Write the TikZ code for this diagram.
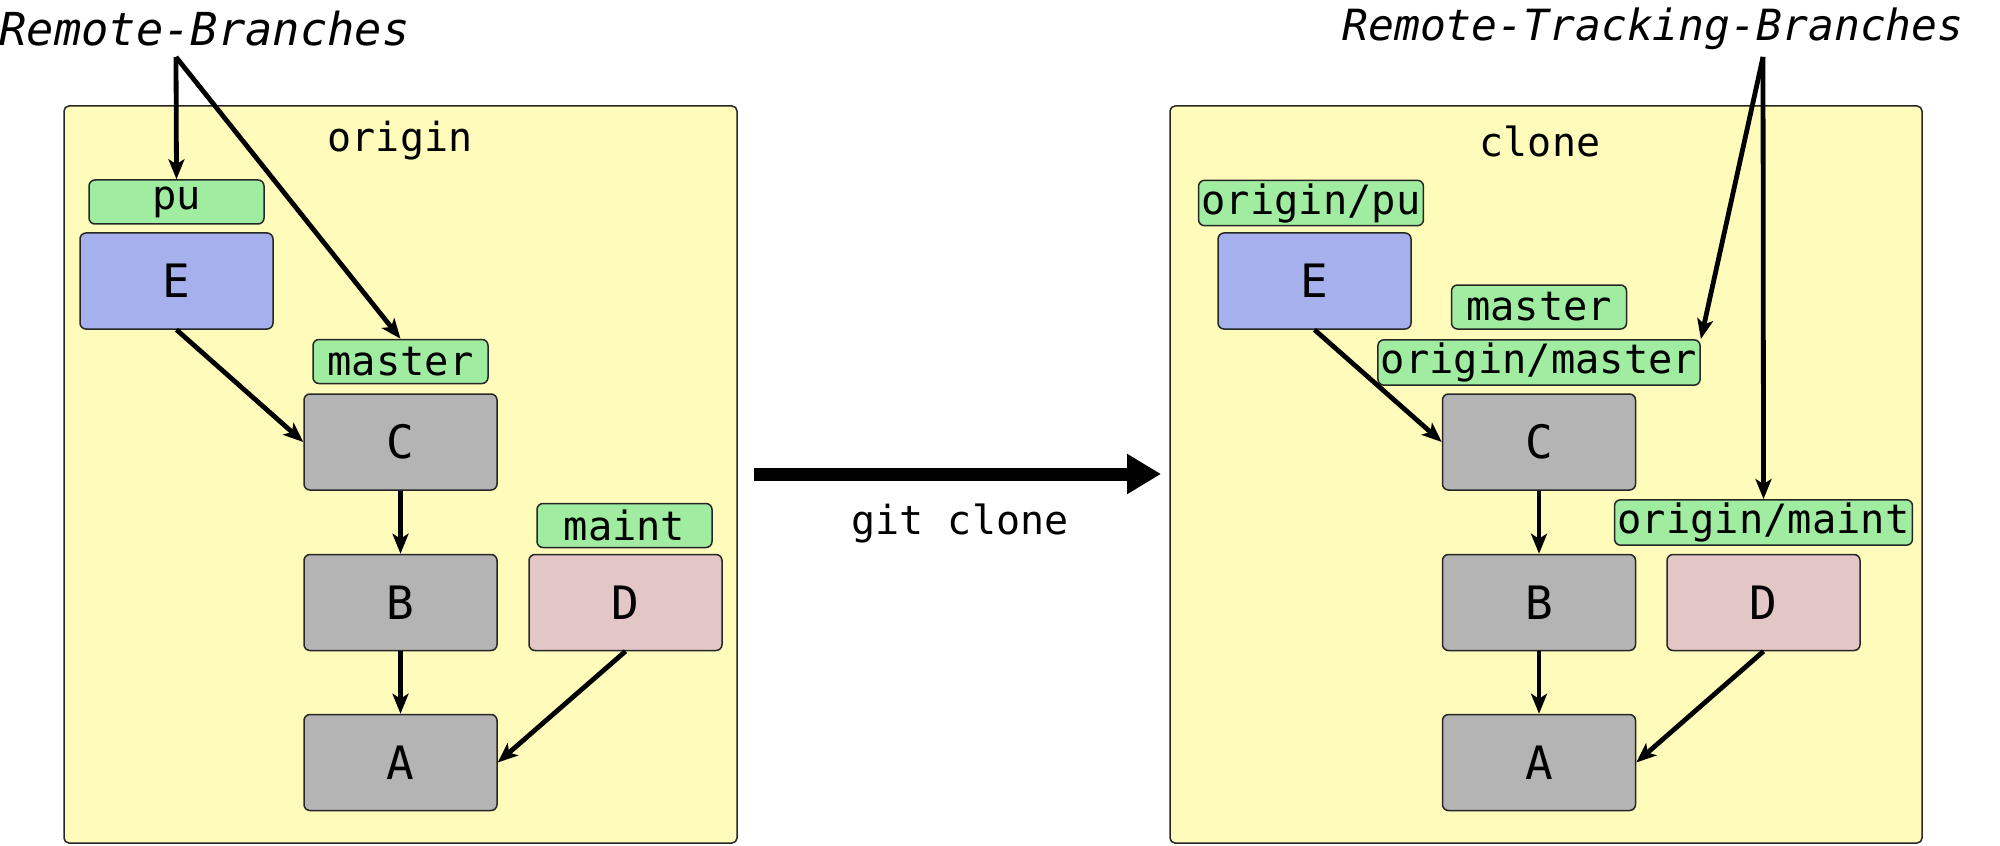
\documentclass[tikz,border=0pt]{standalone}
\usepackage{fontspec}
\setmonofont{DejaVu Sans Mono}
\usetikzlibrary{arrows.meta}
\definecolor{repoyellow}{RGB}{255,252,187}
\definecolor{taggreen}{RGB}{160,236,160}
\definecolor{commitblue}{RGB}{166,176,236}
\definecolor{commitgrey}{RGB}{180,180,180}
\definecolor{commitpink}{RGB}{227,198,198}
\tikzset{
  repo/.style={draw=black!85,fill=repoyellow,line width=0.75pt,rounded corners=2.5pt},
  commit/.style={draw=black!85,line width=0.75pt,rounded corners=3pt,minimum width=96.5pt,minimum height=48pt,font=\ttfamily\fontsize{23}{27}\selectfont},
  tag/.style={draw=black!85,fill=taggreen,line width=0.75pt,rounded corners=3pt,minimum width=87.5pt,minimum height=22pt,inner sep=1.5pt,font=\ttfamily\fontsize{20.2}{24}\selectfont},
  ref/.style={line width=2.4pt,-{Stealth[length=10pt,width=8pt,inset=2.5pt]}},
  label/.style={font=\ttfamily\fontsize{20}{24}\selectfont,inner sep=0pt}
}
\begin{document}
\begin{tikzpicture}[x=0.5pt,y=0.5pt,yscale=-1,xscale=1]
\useasboundingbox (0,0) rectangle (2000,845);

%Shape: Repositories
\draw [repo] (64,106) rectangle (737,843);
\draw [repo] (1170,106) rectangle (1922,843);
\node [label] (origin) at (400,141) {origin};
\node [label] (clone) at (1540,141) {clone};

%Shape: Commits in origin
\node [commit,fill=commitblue] (E) at (176.5,281) {E};
\node [commit,fill=commitgrey] (C) at (400.5,442) {C};
\node [commit,fill=commitgrey] (B) at (400.5,602.5) {B};
\node [commit,fill=commitpink] (D) at (625.5,602.5) {D};
\node [commit,fill=commitgrey] (A) at (400.5,762.5) {A};
\node [tag] (pu) at (176.5,202) {pu};
\node [tag] (master) at (400.5,361.5) {master};
\node [tag] (maint) at (624.5,525.5) {maint};

%Shape: Commits in clone
\node [commit,fill=commitblue] (cE) at (1314.5,281) {E};
\node [commit,fill=commitgrey] (cC) at (1539,442) {C};
\node [commit,fill=commitgrey] (cB) at (1539,602.5) {B};
\node [commit,fill=commitpink] (cD) at (1763.5,602.5) {D};
\node [commit,fill=commitgrey] (cA) at (1539,762.5) {A};
\node [tag] (opu) at (1311,203) {origin/pu};
\node [tag] (cmaster) at (1539,307) {master};
\node [tag] (omaster) at (1539,362.5) {origin/master};
\node [tag] (omaint) at (1763.5,522.5) {origin/maint};

%Straight Lines: parents
\draw [ref] (E.south) -- (C.west);
\draw [ref] (C) -- (B);
\draw [ref] (B) -- (A);
\draw [ref] (D.south) -- (A.east);
\draw [ref] (cE.south) -- (cC.west);
\draw [ref] (cC) -- (cB);
\draw [ref] (cB) -- (cA);
\draw [ref] (cD.south) -- (cA.east);

% Text Node
\node [label,font=\ttfamily\itshape\fontsize{22.7}{26}\selectfont,anchor=east] (rb) at (410,29) {Remote-Branches};
\node [label,font=\ttfamily\itshape\fontsize{21.5}{25}\selectfont] (rtb) at (1653,29) {Remote-Tracking-Branches};
\coordinate (rbfoot) at (176,57);
\coordinate (rtbfoot) at (1763,57);
\draw [ref] (rbfoot) -- (pu.north);
\draw [ref] (rbfoot) -- (master.north);
\draw [ref] (rtbfoot) -- (omaster.north east);
\draw [ref] (rtbfoot) -- (omaint.north);

%Straight Lines: git clone
\coordinate (clonefrom) at (754,474);
\coordinate (cloneto) at (1161,474);
\draw [line width=6.5pt,-{Triangle[length=17pt,width=19pt]}] (clonefrom) -- (cloneto);
\node [label] (gitclone) at (960,523) {git clone};
\end{tikzpicture}
\end{document}
